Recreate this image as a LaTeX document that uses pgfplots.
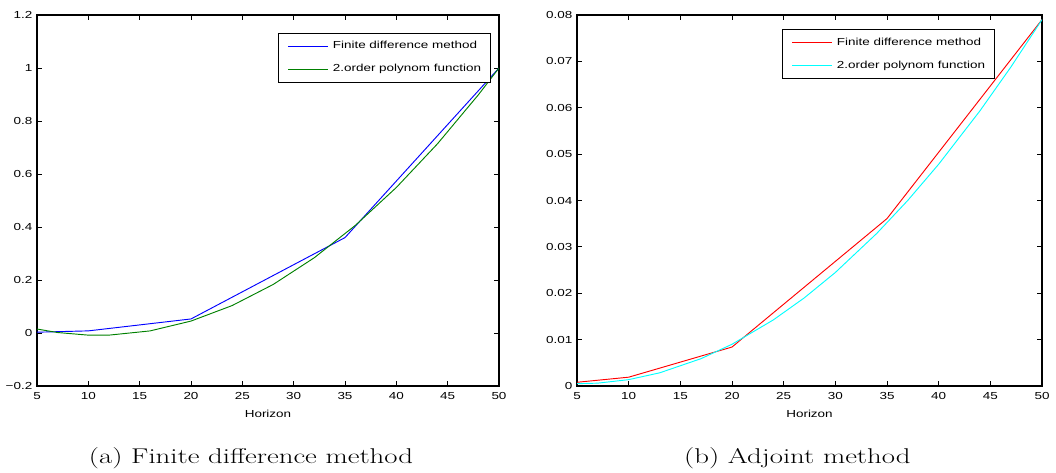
\documentclass[border=0pt]{standalone}
\usepackage{fontspec}
\usepackage{graphicx}
\usepackage{pgfplots}
\pgfplotsset{compat=1.18}
\newfontfamily\arialfont[FakeStretch=1.32]{Liberation Sans}
\newcommand{\tf}{\arialfont\fontsize{7.65}{9}\selectfont}
\definecolor{mgreen}{rgb}{0,0.5,0}
\definecolor{mblue}{rgb}{0,0,1}
\definecolor{mred}{rgb}{1,0,0}
\definecolor{mcyan}{rgb}{0,1,1}

\pgfplotstableread{
x y
5 0.003
10 0.008
20 0.053
35 0.360
50 1.000
}\fdA
\pgfplotstableread{
x y
5 0.0150
7 0.0018
10 -0.0081
12 -0.0081
16 0.0078
20 0.0450
24 0.1034
28 0.1830
32 0.2838
36 0.4059
40 0.5491
44 0.7136
48 0.8993
50 1.0000
}\polyA
\pgfplotstableread{
x y
5 0.0008
10 0.0019
20 0.0084
35 0.0361
50 0.0790
}\fdB
\pgfplotstableread{
x y
5 0.00050
7 0.00061
10 0.00137
13 0.00284
17 0.00589
20 0.00900
24 0.01425
27 0.01901
30 0.02448
34 0.03288
37 0.03999
40 0.04782
44 0.05935
47 0.06882
50 0.07900
}\polyB

\pgfplotsset{mystyle/.style={
  scale only axis, width=346.5pt, height=278.25pt,
  xmin=5, xmax=50, xtick={5,10,...,50},
  xticklabels={5,10,15,20,25,30,35,40,45,50},
  scaled x ticks=false, scaled y ticks=false,
  tick align=inside, major tick length=3.5pt,
  axis line style={line width=0.8pt},
  every tick/.style={black, line width=0.6pt},
  ticklabel style={font=\tf},
  xticklabel style={yshift=-1pt},
  xlabel={Horizon},
  xlabel style={font=\tf, at={(axis description cs:0.5,0)}, anchor=center, yshift=-21pt},
  /pgf/number format/assume math mode=true,
  legend cell align=left,
  legend style={draw=black, line width=0.8pt, anchor=north west,
     inner xsep=6.75pt, inner ysep=6pt, row sep=10.05pt, column sep=3pt,
     nodes={inner sep=0pt, text height=5.6pt, text depth=1.6pt, font=\tf}},
  legend image code/.code={\draw[#1, line width=1pt] (0pt,0pt) -- (30pt,0pt);},
}}

\begin{document}
\begin{tikzpicture}
\path[use as bounding box] (0pt,0pt) rectangle (792pt,-354.75pt);

\begin{axis}[mystyle,
  at={(27.75pt,-11.25pt)}, anchor=north west,
  ymin=-0.2, ymax=1.2, ytick={-0.2,0,0.2,0.4,0.6,0.8,1,1.2},
  yticklabels={−0.2,0,0.2,0.4,0.6,0.8,1,1.2},
  legend style={at={(0.5216,0.9515)}}]
\addplot[mblue, line width=0.7pt] table[x=x,y=y] {\fdA};
\addlegendentry{Finite difference method}
\addplot[mgreen, line width=0.7pt] table[x=x,y=y] {\polyA};
\addlegendentry{2.order polynom function}
\end{axis}

\begin{axis}[mystyle,
  at={(432.75pt,-11.25pt)}, anchor=north west,
  width=348.75pt,
  ymin=0, ymax=0.08, ytick={0,0.01,0.02,0.03,0.04,0.05,0.06,0.07,0.08},
  yticklabels={0,0.01,0.02,0.03,0.04,0.05,0.06,0.07,0.08},
  legend style={at={(0.4409,0.962)}}]
\addplot[mred, line width=0.7pt] table[x=x,y=y] {\fdB};
\addlegendentry{Finite difference method}
\addplot[mcyan, line width=0.7pt] table[x=x,y=y] {\polyB};
\addlegendentry{2.order polynom function}
\end{axis}

\node at (188.25pt,-343.9pt) {\scalebox{1.35}[1]{\fontsize{16}{19}\selectfont (a) Finite difference method}};
\node at (598pt,-343.9pt) {\scalebox{1.35}[1]{\fontsize{16}{19}\selectfont (b) Adjoint method}};
\end{tikzpicture}
\end{document}
